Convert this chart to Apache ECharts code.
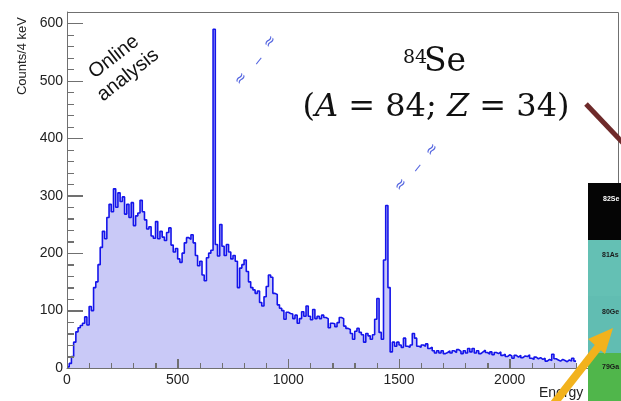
<!DOCTYPE html>
<html><head><meta charset="utf-8">
<script src="https://cdn.jsdelivr.net/npm/echarts@6/dist/echarts.min.js"></script>
<style>html,body{margin:0;padding:0;background:#fff}#c{width:621px;height:401px}</style>
</head><body><div id="c"></div>
<script>
// Histogram: 10 keV bins starting at 0 keV
const binWidth = 10;
const counts = [
  2, 8, 20, 45, 63, 70, 74, 78, 89, 75,
  107, 100, 140, 150, 180, 210, 238, 225, 262, 285,
  272, 312, 280, 305, 290, 298, 268, 285, 262, 288,
  248, 265, 270, 292, 272, 258, 242, 246, 230, 226,
  255, 225, 238, 228, 222, 236, 244, 214, 202, 208,
  190, 184, 200, 218, 227, 224, 232, 218, 196, 178,
  186, 162, 152, 192, 200, 205, 590, 215, 195, 250,
  212, 196, 215, 202, 190, 196, 186, 140, 174, 180,
  188, 168, 150, 140, 136, 130, 134, 114, 108, 124,
  142, 162, 158, 130, 128, 110, 104, 100, 85, 97,
  95, 94, 86, 92, 78, 86, 98, 90, 108, 90,
  84, 102, 86, 90, 86, 92, 88, 86, 70, 78,
  77, 72, 79, 88, 86, 73, 69, 67, 60, 50,
  64, 69, 62, 58, 45, 60, 56, 50, 58, 85,
  121, 62, 50, 188, 283, 140, 28, 45, 38, 45,
  40, 36, 52, 38, 36, 40, 60, 52, 38, 36,
  40, 38, 42, 34, 36, 30, 26, 30, 26, 30,
  25, 27, 30, 26, 30, 27, 32, 29, 25, 30,
  26, 34, 28, 34, 26, 30, 25, 28, 31, 27,
  24, 28, 23, 27, 25, 28, 22, 24, 20, 23,
  21, 17, 22, 19, 22, 18, 21, 20, 23, 17,
  15, 19, 16, 18, 15, 17, 12, 15, 13, 24,
  16, 14, 12, 15, 13, 11, 14, 12, 17, 12
];
const yLabel = 'Counts/4 keV';
const xLabel = 'Energy';
const boxLabels = ['82Se', '81As', '80Ge', '79Ga'];
const xMajorTicks = [0, 500, 1000, 1500, 2000];
const xMinorStep = 100, xTickEnd = 2300;
const yMajorTicks = [0, 100, 200, 300, 400, 500, 600];
const yMinorStep = 20, yTickEnd = 600;
const xMax = 2494, yMax = 620;

const data = counts.map((v, i) => [i * binWidth, v]);
data.push([counts.length * binWidth, counts[counts.length - 1]]);
const xMinorTicks = [], yMinorTicks = [];
for (let t = 0; t <= xTickEnd; t += xMinorStep) if (xMajorTicks.indexOf(t) < 0) xMinorTicks.push(t);
for (let t = 0; t <= yTickEnd; t += yMinorStep) if (yMajorTicks.indexOf(t) < 0) yMinorTicks.push(t);

const chart = echarts.init(document.getElementById('c'), null, {renderer: 'canvas'});
const axisGrey = '#707070';
const sans = 'Liberation Sans';
const sq = '#5566e0';

function squig(x, y, rot, txt, size) {
  return {type: 'text', x: x, y: y, rotation: rot, z: 20,
    style: {text: txt, fill: sq, font: 'italic ' + (size || 15) + 'px "DejaVu Sans"', align: 'center', verticalAlign: 'middle'}};
}

chart.setOption({
  animation: false,
  grid: {left: 67, right: 2, top: 12, bottom: 33, containLabel: false, outerBoundsMode: 'none'},
  xAxis: {
    type: 'value', min: 0, max: xMax, interval: 500, z: 3,
    axisLine: {show: true, onZero: false, lineStyle: {color: axisGrey, width: 1}},
    axisTick: {show: true, inside: true, length: 9, lineStyle: {color: axisGrey, width: 1}},
    minorTick: {show: true, splitNumber: 5, length: 5, lineStyle: {color: axisGrey, width: 1}},
    axisLabel: {color: '#222', fontSize: 14, fontFamily: sans, margin: 5, showMaxLabel: false, formatter: v => String(v)},
    splitLine: {show: false}, minorSplitLine: {show: false}
  },
  yAxis: {
    type: 'value', min: 0, max: yMax, interval: 100, z: 3,
    axisLine: {show: true, onZero: false, lineStyle: {color: axisGrey, width: 1}},
    axisTick: {show: true, inside: true, length: 16, lineStyle: {color: axisGrey, width: 1}},
    minorTick: {show: true, splitNumber: 5, length: 7, lineStyle: {color: axisGrey, width: 1}},
    axisLabel: {color: '#222', fontSize: 14, fontFamily: sans, margin: 4, showMaxLabel: false, formatter: v => String(v)},
    splitLine: {show: false}, minorSplitLine: {show: false}
  },
  series: [{
    type: 'line', step: 'end', data: data, symbol: 'none', z: 2,
    lineStyle: {color: '#1414ea', width: 1.6},
    areaStyle: {color: '#c9c9f7', opacity: 1}
  }]
});

// Frame and ticks positioned through the chart's own scales
const els = [];
function px(v) { return chart.convertToPixel({xAxisIndex: 0, yAxisIndex: 0}, v); }
const c0 = px([0, 0]), c1 = px([xMax, yMax]);
els.push({type: 'rect', z: 29, shape: {x: Math.round(c0[0]) + 0.5, y: Math.round(c1[1]) + 0.5, width: Math.round(c1[0] - c0[0]) - 1, height: Math.round(c0[1] - c1[1])},
  style: {fill: 'none', stroke: axisGrey, lineWidth: 1}});
function addX(v, len) {
  const p = px([v, 0]);
  const x = Math.round(p[0]) + 0.5;
  els.push({type: 'line', z: 29, shape: {x1: x, y1: p[1], x2: x, y2: p[1] - len}, style: {stroke: axisGrey, lineWidth: 1}});
}
function addY(v, len) {
  const p = px([0, v]);
  const y = Math.round(p[1]) + 0.5;
  els.push({type: 'line', z: 29, shape: {x1: p[0], y1: y, x2: p[0] + len, y2: y}, style: {stroke: axisGrey, lineWidth: 1}});
}
xMajorTicks.forEach(v => addX(v, 9));
xMinorTicks.forEach(v => addX(v, 5));
yMajorTicks.forEach(v => addY(v, 16));
yMinorTicks.forEach(v => addY(v, 7));

const decor = [
  {type: 'text', x: 22, y: 56, rotation: Math.PI / 2, style: {text: yLabel, fill: '#222', font: '13px "Liberation Sans"', align: 'center', verticalAlign: 'middle'}},
  {type: 'text', x: 121, y: 66, rotation: 0.663, style: {text: 'Online\nanalysis', fill: '#111', font: '20px "Liberation Sans"', align: 'center', verticalAlign: 'middle', lineHeight: 23}},
  {type: 'text', x: 403, y: 58, style: {text: '84', fill: '#111', font: '19px "DejaVu Serif"', align: 'left', verticalAlign: 'middle'}},
  {type: 'text', x: 424, y: 62, style: {text: 'Se', fill: '#111', font: '33px "DejaVu Serif"', align: 'left', verticalAlign: 'middle'}},
  {type: 'text', x: 436, y: 108, style: {
    text: '{n|(}{i|A}{n| = 84; }{i|Z}{n| = 34)}', align: 'center', verticalAlign: 'middle',
    rich: {n: {font: '32px "DejaVu Serif"', fill: '#111'}, i: {font: 'italic 32px "DejaVu Serif"', fill: '#111'}}
  }},
  squig(241, 79, 0.9, '≈'), squig(259, 61, 0.9, '‒'), squig(270, 42, 0.9, '≈'),
  squig(401, 185, 0.9, '≈'), squig(418, 168, 0.9, '‒'), squig(432, 150, 0.9, '≈'),
  {type: 'line', z: 30, shape: {x1: 586, y1: 104, x2: 625, y2: 145}, style: {stroke: '#6e2a2a', lineWidth: 5}},
  {type: 'rect', z: 30, shape: {x: 588, y: 183, width: 40, height: 57}, style: {fill: '#050505'}},
  {type: 'rect', z: 30, shape: {x: 588, y: 240, width: 40, height: 56}, style: {fill: '#64c0b4'}},
  {type: 'rect', z: 30, shape: {x: 588, y: 296, width: 40, height: 57}, style: {fill: '#61bdb2'}},
  {type: 'rect', z: 30, shape: {x: 588, y: 353, width: 40, height: 50}, style: {fill: '#50b64b'}},
  {type: 'text', z: 31, x: 603, y: 199, style: {text: boxLabels[0], fill: '#fff', font: 'bold 7px "Liberation Sans"', verticalAlign: 'middle'}},
  {type: 'text', z: 31, x: 602, y: 255, style: {text: boxLabels[1], fill: '#1a1a1a', font: 'bold 7px "Liberation Sans"', verticalAlign: 'middle'}},
  {type: 'text', z: 31, x: 602, y: 312, style: {text: boxLabels[2], fill: '#1a1a1a', font: 'bold 7px "Liberation Sans"', verticalAlign: 'middle'}},
  {type: 'text', z: 31, x: 602, y: 367, style: {text: boxLabels[3], fill: '#1a1a1a', font: 'bold 7px "Liberation Sans"', verticalAlign: 'middle'}},
  {type: 'text', z: 25, x: 539, y: 393, style: {text: xLabel, fill: '#222', font: '14px "Liberation Sans"', align: 'left', verticalAlign: 'middle'}},
  {type: 'line', z: 40, shape: {x1: 552, y1: 406, x2: 599, y2: 346}, style: {stroke: '#f2b21c', lineWidth: 8}},
  {type: 'polygon', z: 40, shape: {points: [[613, 328], [588, 339], [605, 354]]}, style: {fill: '#f2b21c'}}
];

chart.setOption({graphic: {elements: els.concat(decor)}});
</script></body></html>
